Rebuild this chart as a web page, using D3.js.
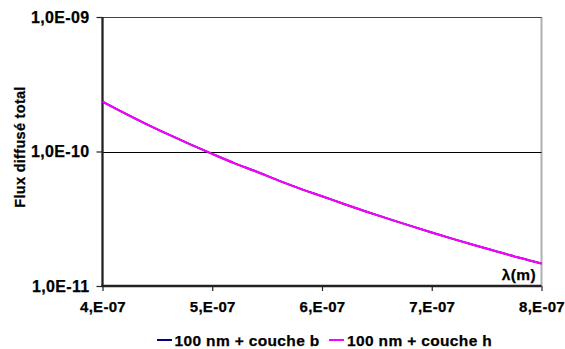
<!DOCTYPE html>
<html>
<head>
<meta charset="utf-8">
<script src="https://cdn.jsdelivr.net/npm/d3@7"></script>
<style>
  html, body { margin: 0; padding: 0; background: #fff; }
  svg { display: block; }
  svg text { font-family: "Liberation Sans", Arial, sans-serif !important; font-weight: bold; font-size: 15.5px !important; letter-spacing: 0.35px; fill: #000; stroke: #000; stroke-width: 0.25px; }
  svg text.title { font-size: 14.5px !important; letter-spacing: 0.3px; }
  svg .x-axis text { font-size: 15px !important; letter-spacing: 0.3px; }
  svg .y-axis text { font-size: 16px !important; }
</style>
</head>
<body>
<svg id="chart" width="565" height="349"></svg>
<script>
// Wavelength samples (m)
const wavelengths = [4.0e-7, 4.2e-7, 4.4e-7, 4.6e-7, 4.8e-7, 5.0e-7, 5.2e-7, 5.4e-7, 5.6e-7, 5.8e-7,
                     6.0e-7, 6.2e-7, 6.4e-7, 6.6e-7, 6.8e-7, 7.0e-7, 7.2e-7, 7.4e-7, 7.6e-7, 7.8e-7, 8.0e-7];
// Total scattered flux, layer b
const fluxB = [2.35e-10, 1.93e-10, 1.60e-10, 1.34e-10, 1.13e-10, 9.6e-11, 8.2e-11, 7.1e-11, 6.1e-11, 5.3e-11,
               4.65e-11, 4.07e-11, 3.58e-11, 3.17e-11, 2.81e-11, 2.5e-11, 2.23e-11, 2.0e-11, 1.8e-11, 1.62e-11, 1.47e-11];
// Total scattered flux, layer h
const fluxH = [2.35e-10, 1.93e-10, 1.60e-10, 1.34e-10, 1.13e-10, 9.6e-11, 8.2e-11, 7.1e-11, 6.1e-11, 5.3e-11,
               4.65e-11, 4.07e-11, 3.58e-11, 3.17e-11, 2.81e-11, 2.5e-11, 2.23e-11, 2.0e-11, 1.8e-11, 1.62e-11, 1.47e-11];
const seriesNames = ["100 nm + couche b", "100 nm + couche h"];
const seriesColors = ["#000080", "#ff00ff"];
const xTicks = [4e-7, 5e-7, 6e-7, 7e-7, 8e-7];
const xTickLabels = ["4,E-07", "5,E-07", "6,E-07", "7,E-07", "8,E-07"];
const yTicks = [1e-11, 1e-10, 1e-9];
const yTickLabels = ["1,0E-11", "1,0E-10", "1,0E-09"];

const svg = d3.select("#chart");
const plot = { left: 102.5, right: 541.5, top: 17, bottom: 286 };

const x = d3.scaleLinear().domain([4e-7, 8e-7]).range([plot.left, plot.right]);
const y = d3.scaleLog().domain([1e-11, 1e-9]).range([plot.bottom, plot.top]);

// Plot area frame (right edge)
svg.append("line")
  .attr("x1", plot.right).attr("x2", plot.right)
  .attr("y1", plot.top).attr("y2", plot.bottom)
  .attr("stroke", "#b0b0b0").attr("stroke-width", 2);

// Horizontal gridlines at each decade
svg.append("g").selectAll("line").data(yTicks.slice(1)).join("line")
  .attr("x1", plot.left).attr("x2", plot.right)
  .attr("y1", d => Math.round(y(d)) + 0.5).attr("y2", d => Math.round(y(d)) + 0.5)
  .attr("stroke", (d, i) => i === yTicks.length - 2 ? "#444" : "#000")
  .attr("stroke-width", 1);

// Y axis
const yAxis = d3.axisLeft(y).tickValues(yTicks)
  .tickFormat((d, i) => yTickLabels[i]).tickSize(6).tickPadding(7);
const gy = svg.append("g").attr("class", "y-axis").attr("transform", `translate(${plot.left},0)`).call(yAxis);
gy.select(".domain").remove();
gy.selectAll(".tick line").attr("stroke", "#222").attr("stroke-width", 1.2);
svg.append("line")
  .attr("x1", plot.left).attr("x2", plot.left)
  .attr("y1", plot.top).attr("y2", plot.bottom + 1)
  .attr("stroke", "#222").attr("stroke-width", 2.3);

// X axis
const xAxis = d3.axisBottom(x).tickValues(xTicks)
  .tickFormat((d, i) => xTickLabels[i]).tickSize(5).tickPadding(10);
const gx = svg.append("g").attr("class", "x-axis").attr("transform", `translate(0,${plot.bottom})`).call(xAxis);
gx.select(".domain").remove();
gx.selectAll(".tick line").attr("stroke", "#222").attr("stroke-width", 1.2);
svg.append("line")
  .attr("x1", plot.left - 1).attr("x2", plot.right)
  .attr("y1", plot.bottom).attr("y2", plot.bottom)
  .attr("stroke", "#222").attr("stroke-width", 2.3);

// Series lines
const line = d3.line().x((d, i) => x(wavelengths[i])).y(d => y(d)).curve(d3.curveMonotoneX);
[fluxB, fluxH].forEach((vals, k) => {
  svg.append("path").datum(vals)
    .attr("d", line).attr("fill", "none")
    .attr("stroke", seriesColors[k]).attr("stroke-width", 2);
});

// Axis titles
svg.append("text").attr("class", "title")
  .attr("transform", `translate(25,147) rotate(-90)`)
  .attr("text-anchor", "middle")
  .text("Flux diffusé total");
svg.append("text")
  .attr("x", 536).attr("y", 280).attr("text-anchor", "end")
  .text("λ(m)");

// Legend
const legendItems = [
  { x0: 157, tx: 174.5 },
  { x0: 329, tx: 347 }
];
legendItems.forEach((it, k) => {
  svg.append("line")
    .attr("x1", it.x0).attr("x2", it.x0 + 15)
    .attr("y1", 340).attr("y2", 340)
    .attr("stroke", seriesColors[k]).attr("stroke-width", 2);
  svg.append("text")
    .attr("x", it.tx).attr("y", 345.5)
    .text(seriesNames[k]);
});
</script>
</body>
</html>
